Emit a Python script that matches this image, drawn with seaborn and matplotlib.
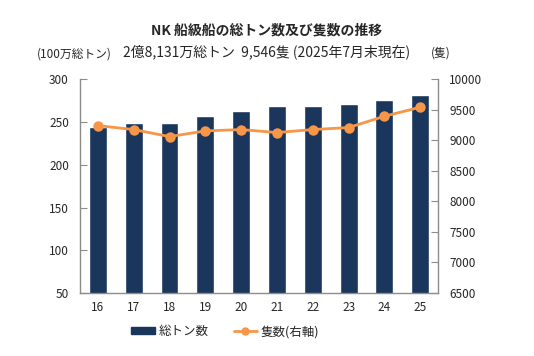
import matplotlib
matplotlib.use("Agg")
import matplotlib.pyplot as plt
import seaborn as sns
import pandas as pd
from matplotlib.lines import Line2D
from matplotlib.patches import Patch

# data
years = ["16", "17", "18", "19", "20", "21", "22", "23", "24", "25"]
gross_tonnage = [244, 249, 249, 257, 263, 269, 269, 271, 276, 281.3]  # 100万総トン
ship_count = [9244, 9179, 9064, 9157, 9179, 9130, 9179, 9212, 9397, 9546]  # 隻

df = pd.DataFrame({"year": years, "gt": gross_tonnage, "ships": ship_count})

sns.set_style("white")
plt.rcParams["font.family"] = ["Noto Sans CJK JP", "DejaVu Sans"]

navy = "#1B365D"
orange = "#F79646"
grey = "#8C8C8C"

fig = plt.figure(figsize=(5.34, 3.56), dpi=100)
ax = fig.add_axes([0.1498, 0.177, 0.6706, 0.5997])

sns.barplot(data=df, x="year", y="gt", color=navy, width=0.5, ax=ax,
            saturation=1)
ax.set_ylim(50, 300)
ax.set_yticks(range(50, 301, 50))
ax.set_xlim(-0.5, len(years) - 0.5)
ax.set_xlabel("")
ax.set_ylabel("")

ax2 = ax.twinx()
sns.pointplot(data=df, x="year", y="ships", color=orange, ax=ax2,
              markers="o", markersize=6, linewidth=2)
ax2.set_ylim(6500, 10000)
ax2.set_yticks(range(6500, 10001, 500))
ax2.set_xlim(-0.5, len(years) - 0.5)
ax2.set_ylabel("")
ax2.set_xlabel("")

for a in (ax, ax2):
    a.spines["top"].set_visible(False)
    for side in ("left", "right", "bottom"):
        a.spines[side].set_color(grey)
        a.spines[side].set_linewidth(1)
    a.tick_params(axis="y", direction="in", length=5, color=grey,
                  labelsize=8.5, pad=8)
    a.tick_params(axis="x", length=0, labelsize=8.5, pad=6)

ax.spines["right"].set_visible(False)
ax2.spines["left"].set_visible(False)
ax2.spines["bottom"].set_visible(False)

fig.text(0.5, 0.913, "NK 船級船の総トン数及び隻数の推移", ha="center", va="center",
         fontsize=10, fontweight="bold")
fig.text(0.5, 0.855, "2億8,131万総トン  9,546隻 (2025年7月末現在)", ha="center",
         va="center", fontsize=10)
fig.text(0.14, 0.848, "(100万総トン)", ha="center", va="center", fontsize=8.5)
fig.text(0.825, 0.852, "(隻)", ha="center", va="center", fontsize=8.5)

handles = [Patch(facecolor=navy, edgecolor=navy),
           Line2D([0], [0], color=orange, lw=2, marker="o", markersize=5)]
fig.legend(handles, ["総トン数", "隻数(右軸)"], loc="center",
           bbox_to_anchor=(0.422, 0.068), ncol=2, frameon=False, fontsize=9,
           handlelength=1.9, handleheight=0.5, columnspacing=2.0,
           handletextpad=0.3)

fig.savefig("out.png", dpi=100)
